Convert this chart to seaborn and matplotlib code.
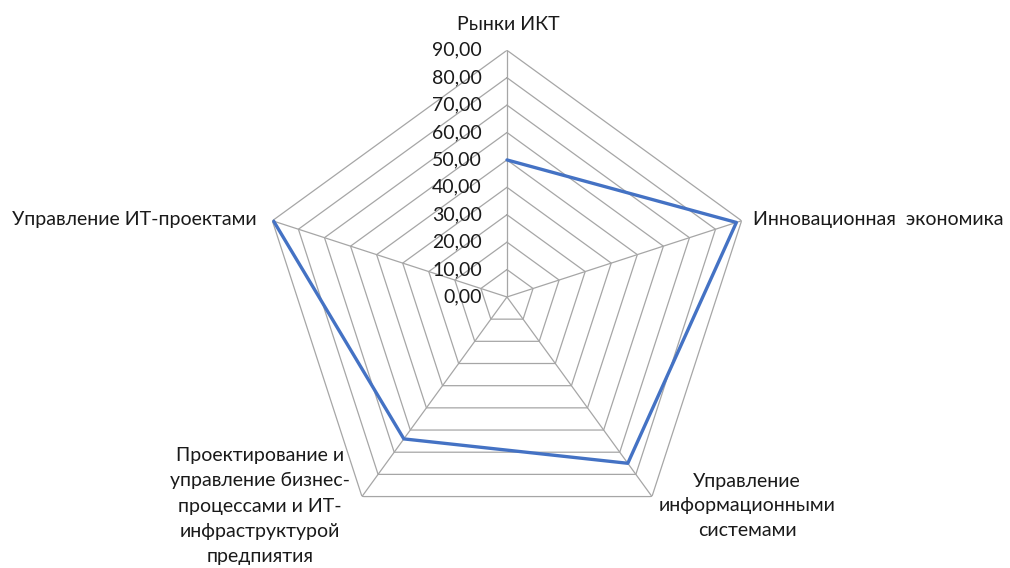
import numpy as np
import pandas as pd
import matplotlib
matplotlib.use("Agg")
import matplotlib.pyplot as plt
import matplotlib.transforms as mtransforms
import seaborn as sns

# data
categories = ["Рынки ИКТ", "Инновационная  экономика", "Управление\nинформационными\nсистемами",
              "Проектирование и\nуправление бизнес-\nпроцессами и ИТ-\nинфраструктурой\nпредпиятия",
              "Управление ИТ-проектами"]
values = [50, 88, 75, 64, 89.5]
ring_levels = [0, 10, 20, 30, 40, 50, 60, 70, 80, 90]
ring_labels = ["0,00", "10,00", "20,00", "30,00", "40,00", "50,00", "60,00", "70,00", "80,00", "90,00"]

sns.set_theme(style="white")
plt.rcParams["font.family"] = ["Lato", "DejaVu Sans"]

fig = plt.figure(figsize=(10.1, 5.68), dpi=100)
ax = fig.add_axes([0.2577, 0.0428, 0.4885, 0.8687], projection="polar")
ax.set_theta_offset(np.pi / 2)
ax.set_theta_direction(-1)
ax.set_ylim(0, 90)
ax.grid(False)
ax.spines["polar"].set_visible(False)
ax.set_xticks([])
ax.set_yticks([])
ax.patch.set_alpha(0)

n = len(categories)
angles = np.linspace(0, 2 * np.pi, n, endpoint=False)
closed = np.append(angles, angles[0])

grid_color = "#A6A6A6"
for lvl in ring_levels[1:]:
    ax.plot(closed, [lvl] * (n + 1), color=grid_color, lw=0.9, zorder=1)
for a in angles:
    ax.plot([a, a], [0, 90], color=grid_color, lw=0.9, zorder=1)

df = pd.DataFrame({"theta": closed, "r": values + [values[0]]})
sns.lineplot(data=df, x="theta", y="r", sort=False, color="#4472C4", lw=2.4, ax=ax, zorder=3)
ax.set_xlabel("")
ax.set_ylabel("")

txt_color = "#1a1a1a"
fs = 14

# radial tick labels, left of the top spoke
off = mtransforms.offset_copy(ax.transData, fig=fig, x=-25, y=0, units="dots")
for lvl, lab in zip(ring_levels, ring_labels):
    ax.text(0, lvl, lab, transform=off, ha="right", va="center", fontsize=fs, color=txt_color, zorder=4)

# category labels (pixel positions in figure)
W, H = 1010, 568
def ftext(x, y, s, **kw):
    fig.text(x / W, 1 - y / H, s, fontsize=fs, color=txt_color, **kw)

ftext(508, 25, categories[0], ha="center", va="center")
ftext(753, 220, categories[1], ha="left", va="center")
ftext(747, 506, categories[2], ha="center", va="center", linespacing=1.5)
ftext(260, 506, categories[3], ha="center", va="center", linespacing=1.58)
ftext(257, 220, categories[4], ha="right", va="center")

fig.savefig("out.png", dpi=100)
